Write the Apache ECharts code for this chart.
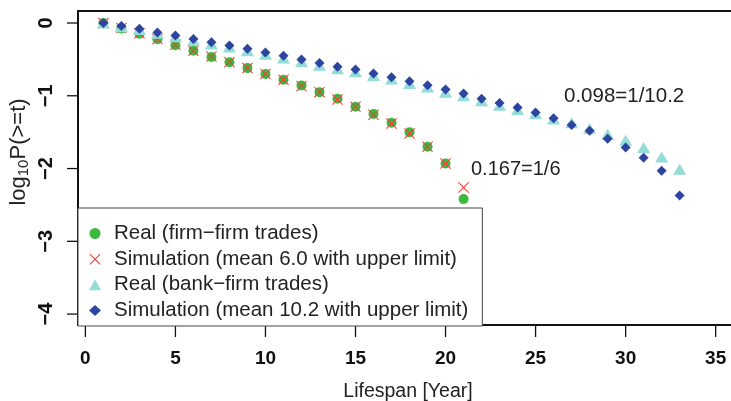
<!DOCTYPE html>
<html>
<head>
<meta charset="utf-8">
<script src="https://cdn.jsdelivr.net/npm/echarts@6/dist/echarts.min.js"></script>
<style>
  html, body { margin: 0; padding: 0; background: #fff; }
  #chart { width: 731px; height: 401px; }
</style>
</head>
<body>
<div id="chart"></div>
<script>
// lifespan in years
const yearsFirm = [1,2,3,4,5,6,7,8,9,10,11,12,13,14,15,16,17,18,19,20,21];
const yearsBank = [1,2,3,4,5,6,7,8,9,10,11,12,13,14,15,16,17,18,19,20,21,22,23,24,25,26,27,28,29,30,31,32,33];

// log10 P(>=t)
const realFirm = [0,-0.077,-0.146,-0.224,-0.306,-0.38,-0.467,-0.54,-0.62,-0.70,-0.78,-0.86,-0.95,-1.04,-1.15,-1.25,-1.37,-1.50,-1.70,-1.93,-2.42];
const simFirm = [0,-0.07,-0.14,-0.22,-0.30,-0.38,-0.46,-0.54,-0.62,-0.70,-0.78,-0.87,-0.95,-1.05,-1.15,-1.26,-1.38,-1.52,-1.70,-1.93,-2.26];
const realBank = [0,-0.05,-0.09,-0.14,-0.19,-0.24,-0.29,-0.33,-0.38,-0.43,-0.48,-0.53,-0.58,-0.63,-0.67,-0.72,-0.77,-0.83,-0.88,-0.95,-1.0,-1.07,-1.13,-1.19,-1.245,-1.32,-1.37,-1.45,-1.53,-1.61,-1.71,-1.84,-2.01];
const simBank = [0,-0.04,-0.08,-0.13,-0.17,-0.22,-0.265,-0.31,-0.355,-0.405,-0.45,-0.50,-0.55,-0.60,-0.64,-0.695,-0.745,-0.80,-0.855,-0.915,-0.97,-1.04,-1.10,-1.16,-1.23,-1.31,-1.40,-1.48,-1.59,-1.71,-1.85,-2.03,-2.37];

const xTicks = [0,5,10,15,20,25,30,35];
const yTicks = [-4,-3,-2,-1,0];

const seriesNames = [
  'Real (firm\u2212firm trades)',
  'Simulation (mean 6.0 with upper limit)',
  'Real (bank\u2212firm trades)',
  'Simulation (mean 10.2 with upper limit)'
];

const FONT = 'Liberation Sans';
const crossPath = 'path://M0,0.7L0.7,0L5,4.3L9.3,0L10,0.7L5.7,5L10,9.3L9.3,10L5,5.7L0.7,10L0,9.3L4.3,5Z';
const X_MIN = -0.41, X_MAX = 36.24;
const Y_MIN = -4.15, Y_MAX = 0.165;

function pairs(xs, ys) {
  return xs.map((x, i) => [x, ys[i]]);
}

const chart = echarts.init(document.getElementById('chart'));
chart.setOption({
  animation: false,
  backgroundColor: '#fff',
  grid: {
    left: 78,
    top: 11,
    width: 660,
    height: 314,
    outerBoundsMode: 'none',
    containLabel: false,
    show: true,
    borderColor: '#111',
    borderWidth: 2
  },
  xAxis: {
    type: 'value',
    min: X_MIN,
    max: X_MAX,
    splitLine: { show: false },
    axisLine: { show: false, onZero: false },
    axisTick: { show: false },
    axisLabel: {
      customValues: xTicks,
      margin: 24,
      fontFamily: FONT,
      fontSize: 19,
      fontWeight: 'bold',
      color: '#111'
    },
    name: 'Lifespan [Year]',
    nameLocation: 'middle',
    nameGap: 57,
    nameTextStyle: { fontFamily: FONT, fontSize: 19.5, color: '#222' }
  },
  yAxis: {
    type: 'value',
    min: Y_MIN,
    max: Y_MAX,
    splitLine: { show: false },
    axisLine: { show: false, onZero: false },
    axisTick: { show: false },
    axisLabel: {
      customValues: yTicks,
      rotate: 90,
      margin: 22,
      fontFamily: FONT,
      fontSize: 20,
      fontWeight: 'bold',
      color: '#111',
      formatter: v => String(v).replace('-', '\u2212')
    }
  },
  legend: {
    orient: 'vertical',
    left: 78,
    top: 208,
    padding: [15, 14, 5, 11],
    itemWidth: 12,
    itemHeight: 11,
    itemGap: 4.67,
    backgroundColor: '#fff',
    borderColor: '#444',
    borderWidth: 1,
    textStyle: {
      fontFamily: FONT,
      fontSize: 20.5,
      lineHeight: 20,
      color: '#222',
      padding: [0, 0, 0, 8]
    },
    data: [
      { name: seriesNames[0], icon: 'circle' },
      { name: seriesNames[1], icon: crossPath },
      { name: seriesNames[2], icon: 'triangle' },
      { name: seriesNames[3], icon: 'diamond' }
    ]
  },
  series: [
    {
      name: seriesNames[0],
      type: 'scatter',
      symbol: 'circle',
      symbolSize: 10,
      itemStyle: { color: '#3cb83c', opacity: 1 },
      data: pairs(yearsFirm, realFirm)
    },
    {
      name: seriesNames[1],
      type: 'scatter',
      symbol: crossPath,
      symbolSize: 11,
      itemStyle: { color: '#e8463c', opacity: 1 },
      data: pairs(yearsFirm, simFirm)
    },
    {
      name: seriesNames[2],
      type: 'scatter',
      symbol: 'triangle',
      symbolSize: [13, 11],
      itemStyle: { color: '#93dcd8', opacity: 1 },
      data: pairs(yearsBank, realBank)
    },
    {
      name: seriesNames[3],
      type: 'scatter',
      symbol: 'diamond',
      symbolSize: [10, 10],
      itemStyle: { color: '#2d44a0', opacity: 1 },
      data: pairs(yearsBank, simBank)
    }
  ]
});

// tick marks placed through the chart's own scales
const tickLines = [];
xTicks.forEach(v => {
  const p = chart.convertToPixel({ gridIndex: 0 }, [v, Y_MIN]);
  tickLines.push({
    type: 'line',
    shape: { x1: p[0], y1: p[1], x2: p[0], y2: p[1] + 12 },
    style: { stroke: '#111', lineWidth: 1.3 }
  });
});
yTicks.forEach(v => {
  const p = chart.convertToPixel({ gridIndex: 0 }, [X_MIN, v]);
  tickLines.push({
    type: 'line',
    shape: { x1: p[0] - 11, y1: p[1], x2: p[0], y2: p[1] },
    style: { stroke: '#111', lineWidth: 1.3 }
  });
});

chart.setOption({
  graphic: tickLines.concat([
    {
      type: 'text',
      left: 471,
      top: 159,
      style: { text: '0.167=1/6', font: '20px "Liberation Sans"', fill: '#222' }
    },
    {
      type: 'text',
      left: 564,
      top: 86,
      style: { text: '0.098=1/10.2', font: '20.5px "Liberation Sans"', fill: '#222' }
    },
    {
      type: 'text',
      x: 19,
      y: 152,
      rotation: Math.PI / 2,
      style: {
        text: '{a|log}{s|10}{a|P(>=t)}',
        align: 'center',
        verticalAlign: 'middle',
        rich: {
          a: { fontFamily: FONT, fontSize: 22, fill: '#222' },
          s: { fontFamily: FONT, fontSize: 15, fill: '#222', padding: [10, 0, 0, 0] }
        }
      }
    }
  ])
});
</script>
</body>
</html>
